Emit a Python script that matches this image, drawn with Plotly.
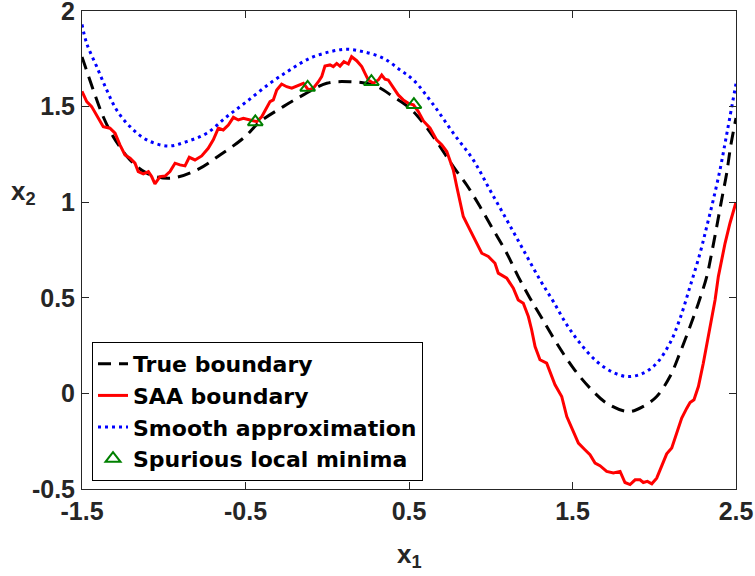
import plotly.graph_objects as go

# ---- data ----
true_x = [-1.5, -1.431, -1.370, -1.309, -1.206, -1.104, -0.962, -0.798, -0.656, -0.513,
          -0.411, -0.269, -0.146, -0.003, 0.139, 0.282, 0.404, 0.506, 0.588, 0.669,
          0.771, 0.853, 0.934, 1.016, 1.098, 1.168, 1.240, 1.312, 1.403, 1.505,
          1.607, 1.709, 1.841, 1.933, 2.015, 2.096, 2.157, 2.219, 2.270, 2.321,
          2.351, 2.382, 2.412, 2.443, 2.467, 2.5]
true_y = [1.76, 1.587, 1.447, 1.343, 1.221, 1.152, 1.125, 1.169, 1.247, 1.335,
          1.421, 1.500, 1.561, 1.622, 1.630, 1.613, 1.552, 1.491, 1.413, 1.317,
          1.186, 1.090, 0.977, 0.855, 0.733, 0.611, 0.498, 0.394, 0.263, 0.132,
          0.028, -0.051, -0.095, -0.068, -0.016, 0.088, 0.211, 0.350, 0.472, 0.611,
          0.733, 0.872, 1.012, 1.152, 1.291, 1.44]

smooth_x = [-1.5, -1.471, -1.410, -1.349, -1.288, -1.206, -1.104, -0.972, -0.860, -0.737,
            -0.615, -0.493, -0.350, -0.228, -0.106, 0.017, 0.119, 0.221, 0.343, 0.445,
            0.527, 0.649, 0.771, 0.893, 0.995, 1.098, 1.199, 1.301, 1.383, 1.465,
            1.546, 1.648, 1.750, 1.841, 1.933, 2.015, 2.096, 2.157, 2.219, 2.280,
            2.321, 2.361, 2.402, 2.433, 2.463, 2.5]
smooth_y = [1.93, 1.83, 1.709, 1.587, 1.482, 1.395, 1.326, 1.294, 1.317, 1.361,
            1.447, 1.526, 1.622, 1.692, 1.753, 1.787, 1.800, 1.787, 1.753, 1.692,
            1.639, 1.51, 1.361, 1.221, 1.064, 0.907, 0.751, 0.594, 0.480, 0.359,
            0.263, 0.167, 0.109, 0.088, 0.106, 0.158, 0.263, 0.39, 0.559, 0.733,
            0.872, 1.012, 1.169, 1.308, 1.447, 1.62]

saa_x = [-1.5, -1.471, -1.441, -1.410, -1.370, -1.329, -1.298, -1.268, -1.237, -1.206,
         -1.176, -1.156, -1.125, -1.094, -1.074, -1.054, -1.023, -0.992, -0.962, -0.931,
         -0.901, -0.870, -0.844, -0.809, -0.768, -0.728, -0.697, -0.666, -0.636, -0.605,
         -0.574, -0.544, -0.513, -0.472, -0.431, -0.401, -0.370, -0.350, -0.330, -0.309,
         -0.279, -0.248, -0.217, -0.177, -0.146, -0.115, -0.085, -0.054, -0.034, -0.014,
         0.017, 0.037, 0.058, 0.078, 0.102, 0.129, 0.149, 0.180, 0.211, 0.231,
         0.251, 0.282, 0.312, 0.333, 0.353, 0.373, 0.404, 0.434, 0.465, 0.496,
         0.527, 0.557, 0.588, 0.629, 0.669, 0.700, 0.731, 0.751, 0.771, 0.792,
         0.812, 0.832, 0.863, 0.883, 0.914, 0.945, 0.985, 1.026, 1.046, 1.098,
         1.138, 1.168, 1.199, 1.230, 1.250, 1.271, 1.301, 1.342, 1.393, 1.434,
         1.465, 1.505, 1.536, 1.576, 1.607, 1.638, 1.668, 1.709, 1.750, 1.791,
         1.821, 1.852, 1.883, 1.913, 1.933, 1.958, 1.985, 2.015, 2.046, 2.076,
         2.107, 2.137, 2.168, 2.199, 2.219, 2.243, 2.270, 2.300, 2.331, 2.351,
         2.372, 2.392, 2.433, 2.463, 2.5]
saa_y = [1.58, 1.526, 1.500, 1.456, 1.395, 1.387, 1.361, 1.300, 1.247, 1.230,
         1.204, 1.160, 1.148, 1.160, 1.134, 1.096, 1.134, 1.137, 1.160, 1.204,
         1.195, 1.190, 1.235, 1.221, 1.242, 1.282, 1.326, 1.387, 1.378, 1.404,
         1.444, 1.430, 1.439, 1.430, 1.421, 1.447, 1.491, 1.526, 1.535, 1.587,
         1.618, 1.604, 1.596, 1.613, 1.622, 1.587, 1.596, 1.630, 1.657, 1.712,
         1.718, 1.709, 1.726, 1.712, 1.735, 1.723, 1.761, 1.740, 1.709, 1.674,
         1.639, 1.622, 1.639, 1.665, 1.643, 1.639, 1.596, 1.561, 1.535, 1.517,
         1.509, 1.474, 1.425, 1.387, 1.326, 1.300, 1.265, 1.221, 1.169, 1.082,
         0.995, 0.925, 0.872, 0.838, 0.777, 0.733, 0.716, 0.681, 0.629, 0.603,
         0.550, 0.489, 0.472, 0.402, 0.333, 0.245, 0.176, 0.158, 0.045, -0.016,
         -0.121, -0.199, -0.260, -0.295, -0.321, -0.364, -0.378, -0.408, -0.416, -0.408,
         -0.466, -0.477, -0.452, -0.452, -0.466, -0.460, -0.473, -0.443, -0.382, -0.316,
         -0.286, -0.208, -0.129, -0.077, -0.048, -0.033, 0.036, 0.158, 0.297, 0.402,
         0.489, 0.611, 0.785, 0.890, 1.0]

minima_x = [-0.44, -0.12, 0.27, 0.53]
minima_y = [1.42, 1.60, 1.63, 1.51]

x_tickvals = [-1.5, -0.5, 0.5, 1.5, 2.5]
x_ticktext = ["-1.5", "-0.5", "0.5", "1.5", "2.5"]
y_tickvals = [-0.5, 0, 0.5, 1, 1.5, 2]
y_ticktext = ["-0.5", "0", "0.5", "1", "1.5", "2"]

FONT = "Liberation Sans"
AX = "#262626"

fig = go.Figure()
fig.add_trace(go.Scatter(x=true_x, y=true_y, mode="lines", name="True boundary",
                         line=dict(color="black", width=3, dash="13px,8px", shape="spline")))
fig.add_trace(go.Scatter(x=saa_x, y=saa_y, mode="lines", name="SAA boundary",
                         line=dict(color="#ff0000", width=3)))
fig.add_trace(go.Scatter(x=smooth_x, y=smooth_y, mode="lines", name="Smooth approximation",
                         line=dict(color="#0000ff", width=3, dash="3px,4px", shape="spline")))
fig.add_trace(go.Scatter(x=minima_x, y=minima_y, mode="markers", name="Spurious local minima",
                         marker=dict(symbol="triangle-up-open", size=13, color="#008000",
                                     line=dict(width=2, color="#008000"))))

axis_common = dict(showline=True, linecolor=AX, linewidth=1, mirror="ticks",
                   ticks="inside", ticklen=7, tickcolor=AX, tickwidth=1,
                   showgrid=False, zeroline=False, automargin=False,
                   ticklabeloverflow="allow",
                   tickfont=dict(family=FONT, size=25, color=AX, weight="bold"))

fig.update_xaxes(range=[-1.5, 2.5], tickvals=x_tickvals, ticktext=x_ticktext, **axis_common)
fig.update_yaxes(range=[-0.5, 2], tickvals=y_tickvals, ticktext=y_ticktext,
                 ticklabelstandoff=1, **axis_common)

fig.update_layout(
    width=755, height=576,
    margin=dict(l=82, r=19, t=11, b=87, pad=0),
    paper_bgcolor="white", plot_bgcolor="white",
    showlegend=True,
    legend=dict(x=0.0153, y=0.3075, xanchor="left", yanchor="top",
                bgcolor="white", bordercolor="black", borderwidth=1,
                font=dict(family="DejaVu Sans", size=22, color="black", weight="bold"),
                tracegroupgap=0, itemwidth=30),
    annotations=[
        dict(text="x<sub>1</sub>", xref="paper", yref="paper", x=0.5, y=-0.14,
             xanchor="center", yanchor="middle", showarrow=False,
             font=dict(family=FONT, size=26, color=AX, weight="bold")),
        dict(text="x<sub>2</sub>", xref="paper", yref="paper", x=-0.089, y=0.62,
             xanchor="center", yanchor="middle", showarrow=False,
             font=dict(family=FONT, size=26, color=AX, weight="bold")),
    ],
)

fig.write_html("out.html", config={"displayModeBar": False},
               post_script="document.body.style.margin='0px';")
